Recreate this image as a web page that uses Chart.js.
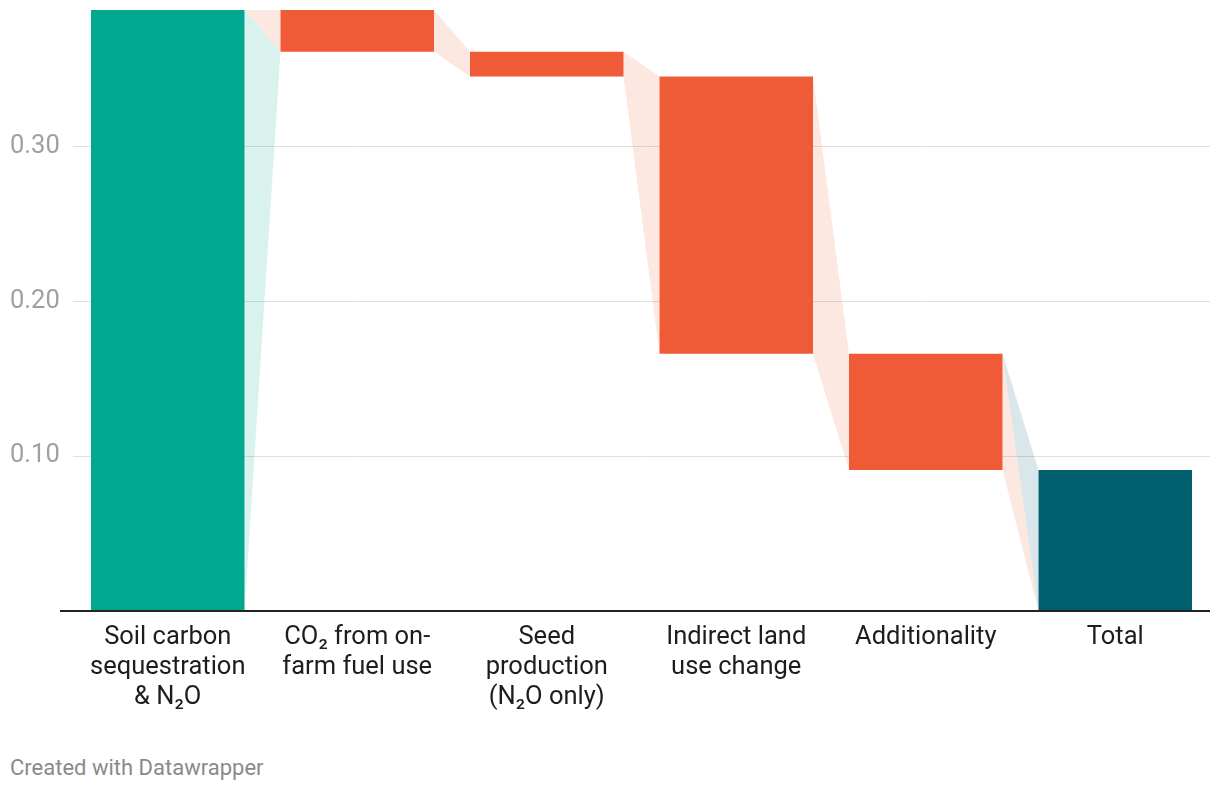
<!DOCTYPE html>
<html>
<head>
<meta charset="utf-8">
<script src="https://cdn.jsdelivr.net/npm/chart.js@4/dist/chart.umd.min.js"></script>
<style>
  html, body { margin: 0; padding: 0; background: #fff; }
  #wrap { position: relative; width: 1220px; height: 740px; }
  #footer {
    position: absolute; left: 10px; top: 755px;
    font-family: Roboto, sans-serif; font-size: 22px; color: #8a8a8a;
  }
</style>
</head>
<body>
<div id="wrap"><canvas id="waterfall"></canvas></div>
<div id="footer">Created with Datawrapper</div>
<script>
// categories (multi-line labels) and the step values of the waterfall
const categories = [
    ['Soil carbon', 'sequestration', '& N\u2082O'],
    ['CO\u2082 from on-', 'farm fuel use'],
    ['Seed', 'production', '(N\u2082O only)'],
    ['Indirect land', 'use change'],
    ['Additionality'],
    ['Total']
];
const changes = [0.388, -0.027, -0.016, -0.179, -0.075];
const total = 0.091;
const yTicks = [0.1, 0.2, 0.3];

const barColors = ['#00a88f', '#f05b37', '#f05b37', '#f05b37', '#f05b37', '#006070'];
const lightColors = ['rgba(0,168,143,0.15)', 'rgba(240,91,55,0.15)', 'rgba(240,91,55,0.15)',
    'rgba(240,91,55,0.15)', 'rgba(240,91,55,0.15)', 'rgba(0,96,112,0.15)'];

// floating bars [low, high]
const ranges = [];
let running = 0;
changes.forEach((c) => {
    const start = running;
    running += c;
    ranges.push([Math.min(start, running), Math.max(start, running)]);
});
ranges.push([0, total]);

// triangles between neighbouring bars
const connectors = {
    id: 'connectors',
    beforeDatasetsDraw(chart) {
        const ctx = chart.ctx;
        const bars = chart.getDatasetMeta(0).data;
        for (let i = 0; i < bars.length - 1; i++) {
            const a = bars[i], b = bars[i + 1];
            const ra = a.x + a.width / 2, lb = b.x - b.width / 2;
            const ta = Math.min(a.y, a.base), ba = Math.max(a.y, a.base);
            const tb = Math.min(b.y, b.base), bb = Math.max(b.y, b.base);
            ctx.save();
            ctx.fillStyle = lightColors[i];
            ctx.beginPath();
            ctx.moveTo(ra, ta); ctx.lineTo(lb, bb); ctx.lineTo(ra, ba);
            ctx.closePath(); ctx.fill();
            ctx.fillStyle = lightColors[i + 1];
            ctx.beginPath();
            ctx.moveTo(ra, ta); ctx.lineTo(lb, tb); ctx.lineTo(lb, bb);
            ctx.closePath(); ctx.fill();
            ctx.restore();
        }
    },
    afterDatasetsDraw(chart) {
        const ctx = chart.ctx;
        const y = chart.scales.y.getPixelForValue(0);
        ctx.save();
        ctx.strokeStyle = '#222';
        ctx.lineWidth = 2;
        ctx.beginPath();
        ctx.moveTo(60, y); ctx.lineTo(chart.chartArea.right, y);
        ctx.stroke();
        ctx.restore();
    }
};

const ctx = document.getElementById('waterfall').getContext('2d');
const myChart = new Chart(ctx, {
    type: 'bar',
    data: {
        labels: categories,
        datasets: [{
            data: ranges,
            backgroundColor: barColors,
            borderWidth: 0,
            barPercentage: 0.81,
            categoryPercentage: 1
        }]
    },
    options: {
        responsive: true,
        maintainAspectRatio: false,
        animation: false,
        layout: { padding: { top: 10, right: 10, left: 10, bottom: 0 } },
        plugins: { legend: { display: false }, tooltip: { enabled: false } },
        scales: {
            x: {
                grid: { display: false, drawTicks: false },
                border: { display: false },
                ticks: {
                    color: '#1d1d1d',
                    font: { family: 'Roboto', size: 25.5, lineHeight: 30 / 25.5 },
                    padding: 12,
                    maxRotation: 0,
                    autoSkip: false
                },
                afterFit(scale) { scale.height = 129; scale.paddingLeft = 0; scale.paddingRight = 0; }
            },
            y: {
                min: 0,
                max: 0.388,
                afterBuildTicks(scale) { scale.ticks = yTicks.map((v) => ({ value: v })); },
                grid: { color: '#e0e0e0', lineWidth: 1, drawTicks: false },
                border: { display: false },
                ticks: {
                    color: '#a0a0a0',
                    font: { family: 'Roboto', size: 25.5 },
                    crossAlign: 'far',
                    padding: 0,
                    callback: (v) => v.toFixed(2)
                },
                afterFit(scale) { scale.width = 63; scale.paddingTop = 0; scale.paddingBottom = 0; }
            }
        }
    },
    plugins: [connectors]
});
</script>
</body>
</html>
